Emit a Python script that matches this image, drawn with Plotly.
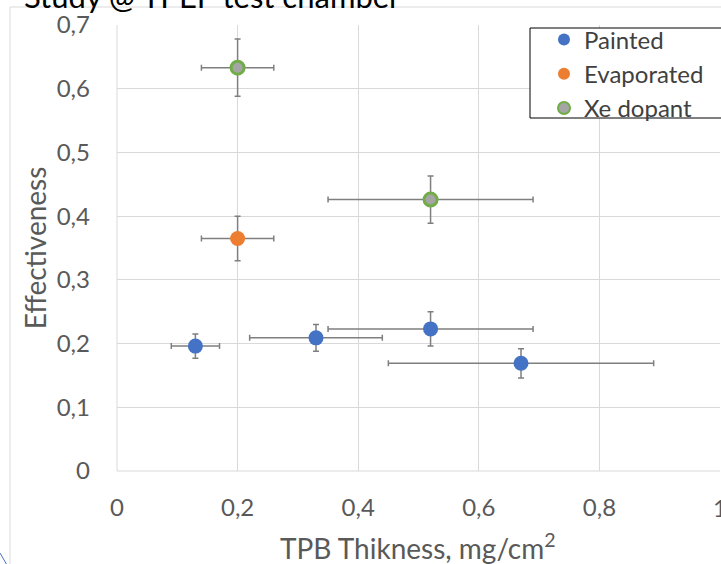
import plotly.graph_objects as go

# Data
painted_x = [0.13, 0.33, 0.52, 0.67]
painted_y = [0.196, 0.209, 0.223, 0.169]
painted_xerr = [0.04, 0.11, 0.17, 0.22]
painted_yerr = [0.019, 0.021, 0.027, 0.023]

evap_x = [0.20]
evap_y = [0.365]
evap_xerr = [0.06]
evap_yerr = [0.035]

xe_x = [0.20, 0.52]
xe_y = [0.633, 0.426]
xe_xerr = [0.06, 0.17]
xe_yerr = [0.045, 0.037]

x_ticks = [0, 0.2, 0.4, 0.6, 0.8, 1]
y_ticks = [0, 0.1, 0.2, 0.3, 0.4, 0.5, 0.6, 0.7]

FONT = "Lato"
ERRC = "#7f7f7f"

def errs(arr):
    return dict(type="data", array=arr, visible=True, color=ERRC, thickness=1.5, width=3)

fig = go.Figure()
fig.add_trace(go.Scatter(x=painted_x, y=painted_y, mode="markers", name="Painted",
                         marker=dict(size=15, color="#4472C4", line=dict(width=0)),
                         error_x=errs(painted_xerr), error_y=errs(painted_yerr)))
fig.add_trace(go.Scatter(x=evap_x, y=evap_y, mode="markers", name="Evaporated",
                         marker=dict(size=15, color="#ED7D31", line=dict(width=0)),
                         error_x=errs(evap_xerr), error_y=errs(evap_yerr)))
fig.add_trace(go.Scatter(x=xe_x, y=xe_y, mode="markers", name="Xe dopant",
                         marker=dict(size=13, color="#A5A5A5", line=dict(width=3, color="#70AD47")),
                         error_x=errs(xe_xerr), error_y=errs(xe_yerr)))

L, R, T, B = 117, 1, 25, 93
W, H = 721, 564
pw, ph = W - L - R, H - T - B

def px(xp):
    return (xp - L) / pw

def py(yp):
    return (H - B - yp) / ph

fig.update_layout(
    width=W, height=H,
    margin=dict(l=L, r=R, t=T, b=B, pad=0),
    paper_bgcolor="white", plot_bgcolor="white",
    separators=",.",
    font=dict(family=FONT, color="#595959", size=24),
    showlegend=True,
    legend=dict(x=px(544), y=py(74), xanchor="left", yanchor="middle",
                bgcolor="rgba(0,0,0,0)", borderwidth=0,
                font=dict(size=24, color="#404040", family=FONT),
                itemsizing="constant", tracegroupgap=0),
    xaxis=dict(range=[0, 1], tickvals=x_ticks, showgrid=True, gridcolor="#d9d9d9", gridwidth=1,
               zeroline=False, showline=False, ticks="", ticklabelstandoff=20,
               tickfont=dict(size=24, color="#595959")),
    yaxis=dict(range=[0, 0.7], tickvals=y_ticks, showgrid=True, gridcolor="#d9d9d9", gridwidth=1,
               zeroline=False, showline=False, ticks="", ticklabelstandoff=26,
               tickfont=dict(size=24, color="#595959"),
               title=dict(text="Effectiveness", font=dict(size=28, color="#595959"), standoff=1)),
    shapes=[
        dict(type="line", xref="paper", yref="paper", x0=0, x1=1, y0=0, y1=0,
             line=dict(color="#d9d9d9", width=1)),
        dict(type="line", xref="paper", yref="paper", x0=0, x1=0, y0=0, y1=1,
             line=dict(color="#d9d9d9", width=1)),
        dict(type="line", xref="paper", yref="paper", x0=px(10), x1=px(721), y0=py(7), y1=py(7),
             line=dict(color="#d9d9d9", width=1)),
        dict(type="line", xref="paper", yref="paper", x0=px(10), x1=px(10), y0=py(7), y1=py(564),
             line=dict(color="#d9d9d9", width=1)),
        dict(type="line", xref="paper", yref="paper", x0=px(0), x1=px(7), y0=py(553), y1=py(565),
             line=dict(color="#4472C4", width=1)),
        dict(type="rect", xref="paper", yref="paper", x0=px(530), x1=px(723), y0=py(28), y1=py(118),
             line=dict(color="black", width=1), fillcolor="white", layer="above"),
    ],
    annotations=[
        dict(text="Study @ TPEP test chamber", xref="paper", yref="paper",
             x=px(22), y=py(17), xanchor="left", yanchor="bottom", showarrow=False,
             font=dict(size=31, color="black", family=FONT)),
        dict(text="TPB Thikness, mg/cm<sup>2</sup>", xref="paper", yref="paper",
             x=px(418), y=py(546), xanchor="center", yanchor="middle", showarrow=False,
             font=dict(size=28, color="#595959", family=FONT)),
        dict(text="1", xref="x", yref="paper",
             x=x_ticks[-1], y=py(507), xanchor="center", yanchor="middle", showarrow=False,
             font=dict(size=24, color="#595959", family=FONT)),
    ],
)

fig.write_html("out.html")
